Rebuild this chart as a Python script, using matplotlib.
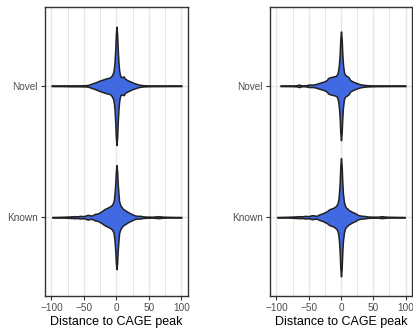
import numpy as np
import matplotlib
matplotlib.use("Agg")
from matplotlib import pyplot as plt

plt.rcParams['font.family'] = ['Liberation Sans', 'DejaVu Sans']

categories = ["Known", "Novel"]
x_ticks = [-100, -50, 0, 50, 100]

# violin outlines: distance vs relative density
left_novel_x = [-100, -85, -72, -60, -50, -46, -43, -40, -36, -32, -28, -24, -20, -16, -12, -9, -7, -5, -4, -3, -2, -1, 0,
                1, 2, 3, 4, 5, 6.5, 8, 10, 11, 13, 17, 21, 25, 29, 33, 37, 42, 50, 60, 75, 90, 100]
left_novel_d = [0.004, 0.005, 0.008, 0.008, 0.01, 0.012, 0.017, 0.03, 0.045, 0.06, 0.08, 0.095, 0.11, 0.125, 0.135, 0.15,
                0.18, 0.23, 0.29, 0.41, 0.6, 0.87, 1.0,
                0.87, 0.6, 0.4, 0.27, 0.2, 0.15, 0.15, 0.15, 0.16, 0.12, 0.095, 0.075, 0.055, 0.04, 0.025, 0.016,
                0.01, 0.007, 0.006, 0.005, 0.004, 0.004]

left_known_x = [-99, -90, -80, -72, -64, -60, -56, -50, -47, -44, -41, -38, -35, -33, -30, -28, -23, -18, -12, -9, -7, -5,
                -4, -3, -2, -1, 0,
                1, 2, 3, 4, 6, 8, 10, 13, 17, 21, 25, 29, 33, 36, 40, 44, 50, 55, 60, 65, 70, 75, 80, 90, 100]
left_known_d = [0.003, 0.005, 0.008, 0.012, 0.017, 0.014, 0.022, 0.018, 0.03, 0.04, 0.032, 0.028, 0.045, 0.056, 0.06,
                0.067, 0.10, 0.14, 0.17, 0.19, 0.21, 0.25, 0.3, 0.4, 0.55, 0.77, 0.88,
                0.77, 0.55, 0.4, 0.27, 0.2, 0.17, 0.14, 0.12, 0.09, 0.067, 0.045, 0.028, 0.022, 0.024, 0.015, 0.011,
                0.009, 0.008, 0.012, 0.017, 0.01, 0.008, 0.006, 0.004, 0.003]

right_novel_x = [-94, -85, -75, -68, -65, -62, -58, -53, -49, -46, -43, -39, -35, -31, -28, -24, -22, -20, -18, -15, -12,
                 -9, -6.7, -5, -4, -3, -2, -1, 0,
                 1, 2, 3, 4.6, 6, 8, 10, 12, 14, 18, 22, 26, 29, 34, 40, 48, 55, 70, 85, 100]
right_novel_d = [0.004, 0.005, 0.006, 0.01, 0.022, 0.01, 0.006, 0.012, 0.022, 0.02, 0.022, 0.03, 0.045, 0.058, 0.067,
                 0.085, 0.10, 0.13, 0.14, 0.15, 0.157, 0.165, 0.18, 0.23, 0.29, 0.39, 0.55, 0.8, 0.92,
                 0.8, 0.55, 0.37, 0.23, 0.19, 0.17, 0.16, 0.14, 0.1, 0.075, 0.056, 0.04, 0.028, 0.018, 0.011, 0.008,
                 0.006, 0.005, 0.004, 0.004]

right_known_x = [-99, -90, -80, -72, -64, -60, -56, -50, -47, -45, -42, -38, -35, -33, -30, -28, -25, -22, -18, -12, -9,
                 -7, -5, -4, -3, -2, -1, 0,
                 1, 2, 3, 4.6, 6, 8, 10, 12, 14, 18, 22, 25, 27, 30, 34, 37, 42, 50, 57, 60, 63, 67, 73, 81, 90, 99]
right_known_d = [0.003, 0.005, 0.008, 0.012, 0.017, 0.014, 0.022, 0.018, 0.028, 0.034, 0.03, 0.022, 0.04, 0.05, 0.06,
                 0.067, 0.085, 0.10, 0.135, 0.157, 0.18, 0.2, 0.25, 0.31, 0.42, 0.6, 0.87, 1.0,
                 0.87, 0.6, 0.4, 0.26, 0.2, 0.16, 0.145, 0.12, 0.11, 0.085, 0.067, 0.045, 0.034, 0.028, 0.022, 0.02,
                 0.011, 0.009, 0.008, 0.012, 0.017, 0.012, 0.007, 0.006, 0.004, 0.003]

panels = [
    {"Known": (left_known_x, left_known_d), "Novel": (left_novel_x, left_novel_d)},
    {"Known": (right_known_x, right_known_d), "Novel": (right_novel_x, right_novel_d)},
]

fig = plt.figure(figsize=(4.14, 3.29), dpi=100)
ax_boxes = [[45 / 414, 33 / 329, 143 / 414, 289 / 329],
            [270 / 414, 33 / 329, 142 / 414, 289 / 329]]

for box, panel in zip(ax_boxes, panels):
    ax = fig.add_axes(box)
    # ggplot style: all violins in a panel share area scaling, widest = 0.45
    dmax = max(max(d) for _, d in panel.values())
    for pos, cat in enumerate(categories, start=1):
        xs, ds = panel[cat]
        w = 0.45 * np.array(ds) / dmax
        ax.fill_between(xs, pos - w, pos + w, facecolor="#4169E1", edgecolor="#222222",
                        linewidth=1.1, zorder=3)

    ax.set_xlim(-110, 110)
    ax.set_ylim(0.4, 2.6)
    ax.set_xticks(x_ticks)
    ax.set_xticks([-75, -25, 25, 75], minor=True)
    ax.set_yticks([1, 2])
    ax.set_yticklabels(categories)
    ax.grid(True, which="major", color="#E6E6E6", linewidth=1.0, zorder=0)
    ax.grid(True, which="minor", axis="x", color="#E6E6E6", linewidth=0.7, zorder=0)
    ax.set_axisbelow(True)
    ax.tick_params(which="major", length=3, width=0.8, color="#333333", labelsize=7.2,
                   labelcolor="#4D4D4D", pad=2)
    ax.tick_params(which="minor", length=0)
    for s in ax.spines.values():
        s.set_color("#333333")
        s.set_linewidth(1.0)
    ax.set_xlabel("Distance to CAGE peak", fontsize=9, color="black", labelpad=2)

fig.savefig("out.png", dpi=100)
